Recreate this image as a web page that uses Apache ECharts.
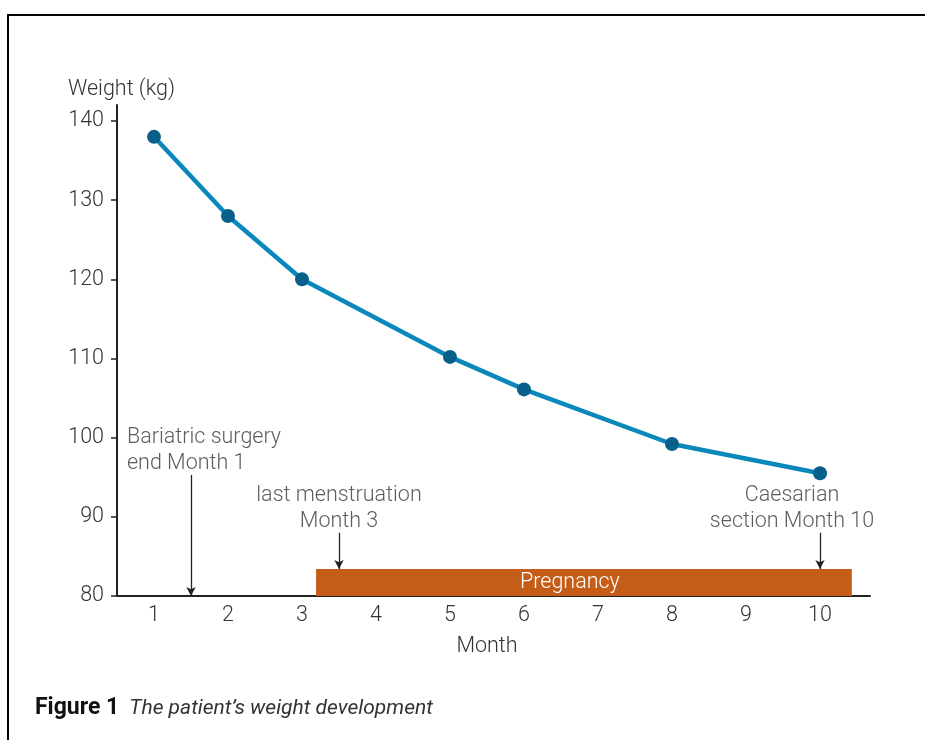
<!DOCTYPE html>
<html>
<head>
<meta charset="utf-8">
<style>html,body{margin:0;padding:0;background:#fff;}#c{width:925px;height:740px;}</style>
<script src="https://cdn.jsdelivr.net/npm/echarts@6/dist/echarts.min.js"></script>
</head>
<body>
<div id="c"></div>
<script>
// ---- data ----
var monthLabels = ['1','2','3','4','5','6','7','8','9','10'];
var measuredMonths = [1, 2, 3, 5, 6, 8, 10];
var weights = [138, 128, 120, 110.2, 106.1, 99.2, 95.5];
var yTicks = {min: 80, max: 140, interval: 10};
var pregnancyStart = 3.19, pregnancyEnd = 10.43, pregnancyTop = 83.4;
var arrowMonths = [1.5, 3.5, 10];
var arrowTops = [95.3, 88.0, 88.0];
var arrowBottoms = [80, 83.4, 83.4];
var annotationTexts = ['Bariatric surgery\nend Month 1', 'last menstruation\nMonth 3', 'Caesarian\nsection Month 10'];

var FONT = 'Roboto, "Liberation Sans", Arial, sans-serif';
var TXT = '#333333';
var FS = 21.5;
var FW = 300;

var lineData = measuredMonths.map(function (m, i) { return [m, weights[i]]; });
var arrowLines = arrowMonths.map(function (m, i) {
  return [{coord: [m, arrowTops[i]]}, {coord: [m, arrowBottoms[i]]}];
});
var annData = [
  {value: [arrowMonths[0], arrowTops[0]], label: {align: 'left', offset: [-64, 7]}},
  {value: [arrowMonths[1], arrowTops[1]], label: {align: 'center', offset: [0, 7]}},
  {value: [arrowMonths[2], arrowTops[2]], label: {align: 'center', offset: [-28, 7]}}
].map(function (d, i) {
  d.label.formatter = annotationTexts[i];
  return d;
});

var chart = echarts.init(document.getElementById('c'));
chart.setOption({
  animation: false,
  backgroundColor: '#fff',
  graphic: [{
    type: 'rect', shape: {x: 8, y: 15, width: 1000, height: 1000},
    style: {fill: 'none', stroke: '#000', lineWidth: 2}, silent: true
  }],
  title: [{
    text: 'Weight (kg)', left: 68, top: 79, padding: 0,
    textStyle: {fontFamily: FONT, fontSize: FS, fontWeight: FW, color: TXT}
  }, {
    text: '{b|Figure 1}  {i|The patient\u2019s weight development}',
    left: 35, top: 697, padding: 0,
    textStyle: {
      fontWeight: 'normal',
      rich: {
        b: {fontFamily: FONT, fontSize: 23, fontWeight: 'bold', color: '#111'},
        i: {fontFamily: FONT, fontSize: 21, fontWeight: 'normal', fontStyle: 'italic', color: '#333'}
      }
    }
  }],
  grid: [
    {left: 117, top: 121, width: 740, height: 475, containLabel: false},
    {left: 117, top: 105, width: 753, height: 491, containLabel: false}
  ],
  xAxis: [{
    type: 'category', gridIndex: 0, data: monthLabels, boundaryGap: true,
    axisLine: {lineStyle: {color: '#222', width: 2}},
    axisTick: {length: 8, lineStyle: {color: '#222', width: 1.5}},
    axisLabel: {fontFamily: FONT, fontSize: FS, fontWeight: FW, color: TXT, margin: 9},
    name: 'Month', nameLocation: 'middle', nameGap: 40,
    nameTextStyle: {fontFamily: FONT, fontSize: FS, fontWeight: FW, color: TXT}
  }, {
    type: 'value', gridIndex: 0, min: 0.5, max: 10.5, show: false
  }, {
    type: 'value', gridIndex: 1, min: 0, max: 1,
    axisLine: {show: true, lineStyle: {color: '#222', width: 2}},
    axisTick: {show: false}, axisLabel: {show: false}, splitLine: {show: false}
  }],
  yAxis: [{
    type: 'value', gridIndex: 0, min: yTicks.min, max: yTicks.max, interval: yTicks.interval,
    axisLine: {show: true, lineStyle: {color: '#222', width: 2}},
    axisTick: {show: true, length: 6, lineStyle: {color: '#222', width: 1.5}},
    axisLabel: {fontFamily: FONT, fontSize: FS, fontWeight: FW, color: TXT, margin: 13},
    splitLine: {show: false}
  }, {
    type: 'value', gridIndex: 1, min: 0, max: 1,
    axisLine: {show: true, lineStyle: {color: '#222', width: 2}},
    axisTick: {show: false}, axisLabel: {show: false}, splitLine: {show: false}
  }],
  series: [{
    type: 'line', xAxisIndex: 1, yAxisIndex: 0,
    data: [],
    markArea: {
      silent: true,
      itemStyle: {color: '#C55C18'},
      label: {show: true, position: 'inside', offset: [-14, 0], formatter: 'Pregnancy',
        color: '#fff', fontFamily: FONT, fontSize: FS, fontWeight: FW},
      data: [[{coord: [pregnancyStart, yTicks.min]}, {coord: [pregnancyEnd, pregnancyTop]}]]
    },
    markLine: {
      silent: true,
      symbol: ['none', 'arrow'], symbolSize: [7, 9],
      lineStyle: {color: '#222', width: 1.3, type: 'solid'},
      label: {show: false},
      data: arrowLines
    }
  }, {
    type: 'line', xAxisIndex: 1, yAxisIndex: 0,
    data: lineData,
    lineStyle: {color: '#0A88BB', width: 4.5},
    symbol: 'circle', symbolSize: 14,
    itemStyle: {color: '#08608A'},
    z: 5
  }, {
    type: 'scatter', xAxisIndex: 1, yAxisIndex: 0,
    symbolSize: 0,
    label: {show: true, position: 'top', fontFamily: FONT, fontSize: FS, fontWeight: FW, color: TXT, lineHeight: 26},
    data: annData,
    silent: true
  }]
});
</script>
</body>
</html>
